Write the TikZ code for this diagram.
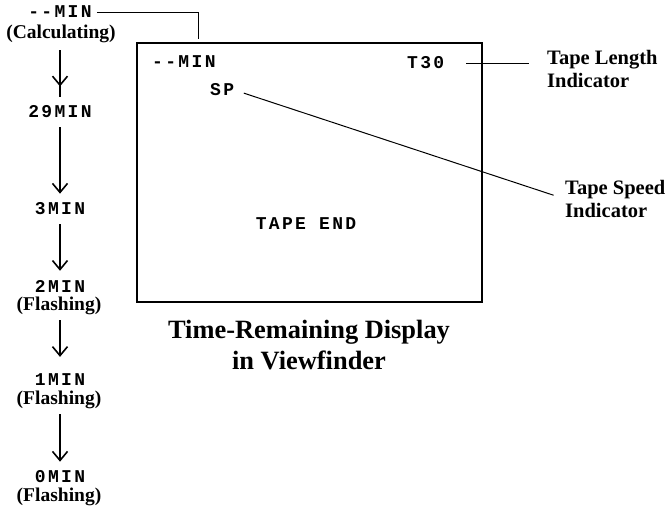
\documentclass[tikz,border=0pt]{standalone}
\usepackage{fontspec}
\setmainfont{Liberation Serif}
\newfontfamily\lcdfont[LetterSpace=13]{Liberation Mono Bold}
\usepackage{tikz}
\usetikzlibrary{arrows.meta,positioning,calc,decorations.markings}

\begin{document}
\begin{tikzpicture}[
          x=1pt,y=-1pt,
          lcd/.style={font=\lcdfont\fontsize{18}{20}\selectfont,inner sep=0pt},
          note/.style={font=\bfseries\fontsize{19.5}{21}\selectfont,inner sep=0pt},
          callout/.style={font=\bfseries\fontsize{20.5}{22.5}\selectfont,
                          align=left,inner sep=0pt},
          flow/.style={line width=1.8pt,
                       -{Straight Barb[length=9pt,width=15pt,line width=1.6pt]}},
          leader/.style={line width=1pt},
      ]
        \useasboundingbox (0,0) rectangle (671,506);

        % countdown on the left
        \node[lcd] (m0) at (60,12) {--MIN};
        \node[note] (c0) at (61,34) {(Calculating)};
        \node[lcd] (m1) at (60,112) {29MIN};
        \node[lcd] (m2) at (60,209) {3MIN};
        \node[lcd] (m3) at (60,286) {2MIN};
        \node[note] (c3) at (59,306) {(Flashing)};
        \node[lcd] (m4) at (60,380) {1MIN};
        \node[note] (c4) at (59,400) {(Flashing)};
        \node[lcd] (m5) at (60,477) {0MIN};
        \node[note] (c5) at (59,497) {(Flashing)};

        % (yshift is in canvas direction: negative = downwards)
        \draw[line width=1.8pt,postaction={decorate},
              decoration={markings,mark=at position 0.78 with
                {\arrow{Straight Barb[length=9pt,width=15pt,line width=1.6pt]}}}]
              ([yshift=-7]c0.south -| m1.north) -- ([yshift=9]m1.north);
        \draw[flow] ([yshift=-9]m1.south) -- ([yshift=9]m2.north);
        \draw[flow] ([yshift=-9]m2.south) -- ([yshift=9]m3.north);
        \draw[flow] ([yshift=-5]c3.south -| m3.south) -- ([yshift=17]m4.north);
        \draw[flow] ([yshift=-5]c4.south -| m4.south) -- ([yshift=9]m5.north);

        % viewfinder screen
        \node[draw,line width=1.2pt,minimum width=345,minimum height=259,inner sep=0pt]
          (screen) at (309.5,172.5) {};
        \node[lcd,anchor=west] (dmin) at (152,62) {--MIN};
        \node[lcd,anchor=west] (dsp) at (210,90) {SP};
        \node[lcd,anchor=west] (dlen) at (407,63) {T30};
        \node[lcd] (dend) at (306,224) {TAPE END};

        \node[callout,anchor=west] (lenlbl) at (547,69) {Tape Length\\Indicator};
        \node[callout,anchor=west] (spdlbl) at (565,199) {Tape Speed\\Indicator};

        \node[font=\bfseries\fontsize{26.4}{31}\selectfont,align=center,inner sep=0pt]
          (title) at (309,345.5) {Time-Remaining Display\\in Viewfinder};

        % leaders
        \coordinate (topend) at (198,39);
        \draw[leader] ([xshift=5]m0.east) -| (topend);
        \draw[leader,shorten <=22pt,shorten >=18pt] (dlen.east) -- (dlen.east -| lenlbl.west);
        \draw[leader,shorten <=10pt,shorten >=12pt] (dsp.east) -- (spdlbl.west);
      \end{tikzpicture}
\end{document}
